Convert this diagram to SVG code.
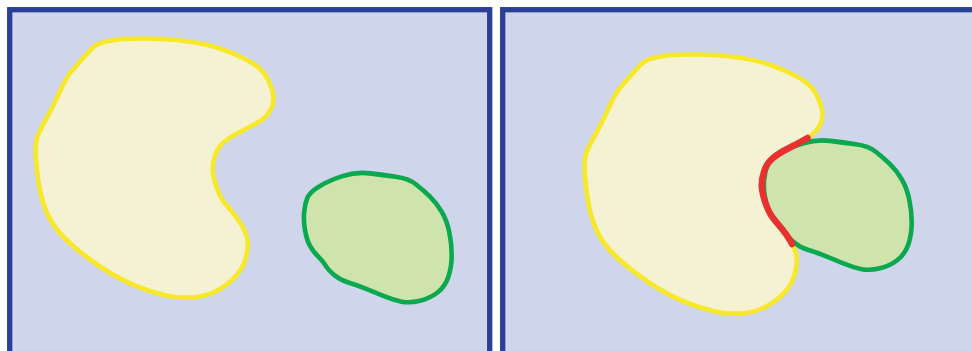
<svg xmlns="http://www.w3.org/2000/svg" width="972" height="351" viewBox="0 0 972 351">
<style>
.panel{fill:#cfd5ea;stroke:#2c3f96;stroke-width:5.3}
.yel{fill:#f5f2d3;stroke:#f7e82a;stroke-width:4.6;stroke-linejoin:round}
.grn{fill:#cfe3ad;stroke:#0aa84f;stroke-width:4.6;stroke-linejoin:round}
.red{fill:none;stroke:#e8312f;stroke-width:6.5;stroke-linecap:round;stroke-linejoin:round}
</style>
<defs>
<path id="yshape" d="M96.5,45 Q100,43 110,40.75 Q120,38.5 143.5,38.5 Q167,38.5 187,41.25 Q207,44 220,48.5 Q233,53 243,58 Q253,63 259,68 Q265,73 269,82 Q273,91 273.5,97 Q274,103 270.5,110 Q267,117 258.5,122 Q250,127 240,132 Q230,137 224,142 Q218,147 215.25,155 Q212.5,163 212.75,170 Q213,177 216.5,187 Q220,197 224,202 Q228,207 232.25,212 Q236.5,217 241.5,225 Q246.5,233 247.5,240 Q248.5,247 246,257 Q243.5,267 236.75,275 Q230,283 220,289 Q210,295 198.5,296.75 Q187,298.5 173.5,296.75 Q160,295 140,287.5 Q120,280 100,266.5 Q80,253 66.5,240 Q53,227 47.25,213.5 Q41.5,200 39,185 Q36.5,170 35.75,156.5 Q35,143 37.5,136.5 Q40,130 46.5,118.5 Q53,107 59.75,92 Q66.5,77 71.75,71 Q77,65 85,56 Q93,47 96.5,45 Z"/>
<path id="gshape" d="M307.5,197.5 Q310,191.7 320,185.9 Q330,180 343.4,175.9 Q356.7,171.7 370,173.4 Q383.3,175 395.8,176.7 Q408.3,178.3 415.8,184.2 Q423.3,190 430,196.7 Q436.7,203.3 441.7,211.7 Q446.7,220 449.2,231.7 Q451.7,243.3 451.7,255 Q451.7,266.7 448.4,276.7 Q445,286.7 437.5,292.5 Q430,298.3 420,300.8 Q410,303.3 401.7,301.7 Q393.3,300 383.3,295.9 Q373.3,291.7 365,288.4 Q356.7,285 348.4,282.5 Q340,280 334.2,275 Q328.3,270 325.8,265.9 Q323.3,261.7 318.3,256.7 Q313.3,251.7 310,245.9 Q306.7,240 305,230 Q303.3,220 304.2,211.7 Q305,203.3 307.5,197.5 Z"/>
</defs>
<rect width="972" height="351" fill="#ffffff"/>
<g id="panel-left">
<rect class="panel" x="9.7" y="9.7" width="480" height="400"/>
<use id="region-a-left" href="#yshape" class="yel"/>
<use id="region-b-left" href="#gshape" class="grn"/>
</g>
<g id="panel-right">
<rect class="panel" x="502.7" y="9.7" width="500" height="400"/>
<use id="region-a-right" href="#yshape" class="yel" transform="translate(549,16)"/>
<use id="region-b-right" href="#gshape" class="grn" transform="translate(460,-32.5)"/>
<path id="shared-boundary" class="red" transform="translate(549,16)" d="M258.5,122 Q250,127 240,132 Q230,137 224,142 Q218,147 215.25,155 Q212.5,163 212.75,170 Q213,177 216.5,187 Q220,197 224,202 Q228,207 232.25,212 Q236.5,217 241.5,225 L243,228"/>
</g>
</svg>
